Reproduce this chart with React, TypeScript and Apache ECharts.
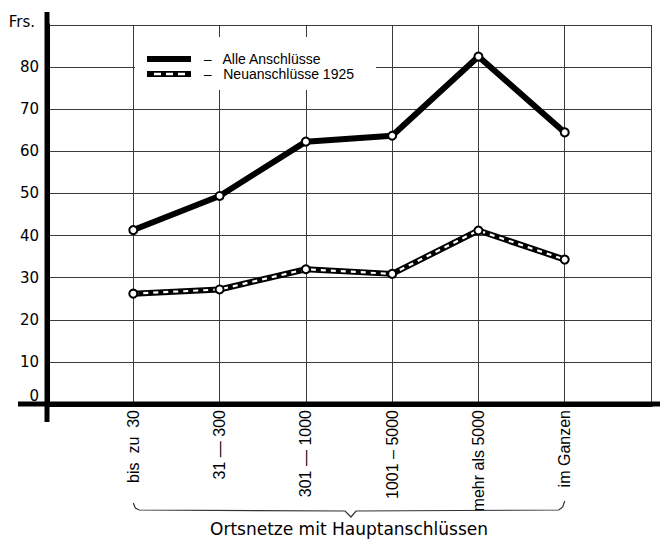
import React, { useEffect, useRef } from "react";
import * as echarts from "echarts";

const categories = ["bis  zu  30", "31 — 300", "301 — 1000", "1001 – 5000", "mehr als 5000", "im Ganzen"];
const alleAnschluesse = [41.3, 49.4, 62.3, 63.7, 82.5, 64.5];
const neuanschluesse1925 = [26.2, 27.2, 32.0, 30.9, 41.2, 34.3];
const seriesNames = ["Alle Anschlüsse", "Neuanschlüsse 1925"];
const yMax = 90;
const yUnitLabel = "Frs.";
const xTitle = "Ortsnetze mit Hauptanschlüssen";

const toPoints = (vals: number[]) => vals.map((v, i) => [i + 1, v]);

const NEU_ICON =
  "path://M0,0H44V6H0Z M7,1.8V4.2H14V1.8Z M19,1.8V4.2H26V1.8Z M31,1.8V4.2H38V1.8Z";
const ALLE_ICON = "path://M0,0H44V6H0Z";

export default function App() {
  const ref = useRef<HTMLDivElement>(null);
  useEffect(() => {
    if (!ref.current) return;
    const chart = echarts.init(ref.current, null, { renderer: "svg" });
    const gridLine = { show: true, lineStyle: { color: "#3a3a3a", width: 1 } };
    chart.setOption({
      animation: false,
      backgroundColor: "#fff",
      grid: { left: 47, right: 9, top: 25, bottom: 135 },
      legend: {
        orient: "vertical",
        left: 135,
        top: 37,
        padding: [15, 22, 9, 12],
        backgroundColor: "#fff",
        itemWidth: 44,
        itemHeight: 6,
        itemGap: 1,
        selectedMode: false,
        itemStyle: { color: "#000", borderWidth: 0 },
        formatter: (n: string) => "  –   " + n,
        textStyle: {
          fontFamily: "Liberation Sans",
          fontSize: 14,
          color: "#000",
          lineHeight: 14,
        },
        data: [
          { name: seriesNames[0], icon: ALLE_ICON },
          { name: seriesNames[1], icon: NEU_ICON },
        ],
      },
      xAxis: {
        type: "value",
        min: 0,
        max: categories.length + 1,
        interval: 1,
        axisLine: { show: true, onZero: false, lineStyle: { color: "#000", width: 5 } },
        axisTick: { show: false },
        splitLine: gridLine,
        axisLabel: {
          rotate: 90,
          margin: 6,
          fontFamily: "Liberation Sans",
          fontSize: 16,
          color: "#000",
          formatter: (v: number) => categories[v - 1] || "",
        },
        name: xTitle,
        nameLocation: "middle",
        nameGap: 116,
        nameTextStyle: { fontFamily: "DejaVu Sans", fontSize: 17, color: "#000" },
      },
      yAxis: {
        type: "value",
        min: 0,
        max: yMax,
        interval: 10,
        axisLine: { show: true, lineStyle: { color: "#000", width: 5 } },
        axisTick: { show: false },
        splitLine: gridLine,
        axisLabel: {
          margin: 8,
          fontFamily: "DejaVu Sans",
          fontSize: 15,
          color: "#000",
          formatter: (v: number) => (v === yMax ? "{f|" + yUnitLabel + "}" : v === 0 ? "{z|0}" : String(v)),
          rich: {
            f: { fontFamily: "DejaVu Sans", fontSize: 15, color: "#000", padding: [0, 4, 6, 0] },
            z: { fontFamily: "DejaVu Sans", fontSize: 15, color: "#000", padding: [0, 0, 16, 0] },
          },
        },
      },
      series: [
        {
          name: seriesNames[0],
          type: "line",
          data: toPoints(alleAnschluesse),
          symbol: "emptyCircle",
          symbolSize: 8,
          itemStyle: { color: "#000", borderColor: "#000", borderWidth: 2 },
          lineStyle: { color: "#000", width: 6 },
          z: 3,
        },
        {
          name: seriesNames[1],
          type: "line",
          data: toPoints(neuanschluesse1925),
          showSymbol: false,
          symbol: "none",
          itemStyle: { color: "#000" },
          lineStyle: { color: "#000", width: 6 },
          z: 3,
        },
        {
          name: seriesNames[1] + " (Muster)",
          type: "line",
          data: toPoints(neuanschluesse1925),
          symbol: "emptyCircle",
          symbolSize: 8,
          itemStyle: { color: "#000", borderColor: "#000", borderWidth: 2 },
          lineStyle: { color: "#fff", width: 2.2, type: [5, 5] },
          z: 4,
        },
      ],
    });

    const o = chart.convertToPixel({ gridIndex: 0 }, [0, 0]) as number[];
    const top = chart.convertToPixel({ gridIndex: 0 }, [categories.length + 1, yMax]) as number[];
    const c1 = chart.convertToPixel({ gridIndex: 0 }, [1, 0]) as number[];
    const c6 = chart.convertToPixel({ gridIndex: 0 }, [categories.length, 0]) as number[];
    const mid = (c1[0] + c6[0]) / 2 + 2;
    const by = o[1];
    chart.setOption({
      graphic: [
        {
          type: "line",
          shape: { x1: o[0], y1: top[1] - 13, x2: o[0], y2: o[1] + 18 },
          style: { stroke: "#000", lineWidth: 5 },
          z: 10,
        },
        {
          type: "line",
          shape: { x1: o[0] - 29, y1: o[1], x2: 660, y2: o[1] },
          style: { stroke: "#000", lineWidth: 5 },
          z: 10,
        },
        {
          type: "polyline",
          shape: {
            points: [
              [c1[0], by + 99],
              [c1[0] + 2, by + 104],
              [c1[0] + 6, by + 106],
              [mid - 6, by + 107],
              [mid, by + 113],
              [mid + 5, by + 107],
              [c6[0] - 6, by + 106],
              [c6[0] - 2, by + 103],
              [c6[0], by + 97],
            ],
          },
          style: { stroke: "#333", lineWidth: 1.2, fill: null },
          z: 10,
        },
      ],
    });
    return () => chart.dispose();
  }, []);
  return (
    <div
      ref={ref}
      style={{ position: "fixed", left: 0, top: 0, width: 660, height: 542, background: "#fff" }}
    />
  );
}
